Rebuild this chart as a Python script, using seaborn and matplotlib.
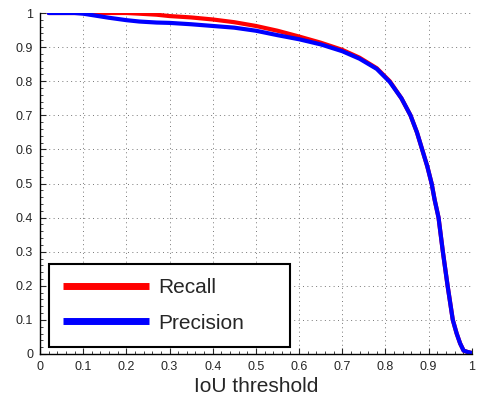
import numpy as np
import pandas as pd
import matplotlib
matplotlib.use("Agg")
import matplotlib.pyplot as plt
import seaborn as sns
from matplotlib.ticker import MultipleLocator

# curve values
iou = [0.02, 0.05, 0.08, 0.10, 0.13, 0.16, 0.20, 0.23, 0.27, 0.30, 0.35, 0.40, 0.45,
       0.50, 0.55, 0.60, 0.65, 0.70, 0.74, 0.78, 0.81, 0.837, 0.858, 0.873, 0.885,
       0.897, 0.907, 0.914, 0.923, 0.933, 0.944, 0.956, 0.965, 0.973, 0.981, 0.99, 1.0]
recall = [1.0, 1.0, 1.0, 1.0, 1.0, 1.0, 1.0, 0.998, 0.995, 0.991, 0.987, 0.981, 0.973,
          0.962, 0.948, 0.931, 0.913, 0.892, 0.869, 0.838, 0.80, 0.75, 0.70, 0.65, 0.60,
          0.55, 0.50, 0.452, 0.40, 0.30, 0.20, 0.10, 0.06, 0.031, 0.01, 0.006, 0.003]
precision = [1.0, 1.0, 1.0, 0.998, 0.992, 0.986, 0.979, 0.975, 0.972, 0.971, 0.967, 0.962, 0.957,
             0.948, 0.935, 0.923, 0.908, 0.888, 0.866, 0.836, 0.798, 0.75, 0.70, 0.65, 0.60,
             0.55, 0.50, 0.452, 0.40, 0.30, 0.20, 0.10, 0.06, 0.031, 0.01, 0.006, 0.003]
tick_labels = ["0", "0.1", "0.2", "0.3", "0.4", "0.5", "0.6", "0.7", "0.8", "0.9", "1"]

df = pd.DataFrame({"iou": iou, "Recall": recall, "Precision": precision})
long = df.melt(id_vars="iou", var_name="metric", value_name="value")

sns.set_style("white")
plt.rcParams["font.family"] = ["Liberation Sans", "DejaVu Sans"]

fig = plt.figure(figsize=(4.78, 4.0), dpi=100)
ax = fig.add_axes([0.0837, 0.115, 0.9033, 0.8525])

sns.lineplot(data=long, x="iou", y="value", hue="metric",
             palette={"Recall": "#ff0000", "Precision": "#0000ff"},
             linewidth=3, ax=ax)

ax.set_xlim(0, 1)
ax.set_ylim(0, 1)
ax.set_xticks(np.arange(0, 1.01, 0.1))
ax.set_yticks(np.arange(0, 1.01, 0.1))
ax.set_xticklabels(tick_labels)
ax.set_yticklabels(tick_labels)
ax.xaxis.set_minor_locator(MultipleLocator(0.02))
ax.yaxis.set_minor_locator(MultipleLocator(0.02))
ax.tick_params(which="major", direction="in", length=4, width=0.8, labelsize=9, pad=5)
ax.tick_params(which="minor", direction="in", length=2, width=0.6)
ax.tick_params(bottom=True, left=True, which="both")

ax.grid(True, which="major", linestyle=(0, (1, 3.5)), color="#777777", linewidth=0.7)
for s in ["top", "right"]:
    ax.spines[s].set_visible(False)
for s in ["left", "bottom"]:
    ax.spines[s].set_color("black")
    ax.spines[s].set_linewidth(1.0)

ax.set_xlabel("IoU threshold", fontsize=15, labelpad=3)
ax.set_ylabel("")

handles, labels = ax.get_legend_handles_labels()
order = [labels.index("Recall"), labels.index("Precision")]
leg = ax.legend([handles[i] for i in order], [labels[i] for i in order],
                loc="lower left", bbox_to_anchor=(0.0208, 0.0214, 0.558, 0.25),
                mode="expand", fontsize=15, frameon=True, fancybox=False,
                edgecolor="black", framealpha=1,
                handlelength=4.13, handletextpad=0.43, labelspacing=0.78,
                borderpad=0.68, borderaxespad=0.0)
leg.get_frame().set_linewidth(1.5)
for line in leg.get_lines():
    line.set_linewidth(5)
    line.set_solid_capstyle("butt")

fig.savefig("out.png", dpi=100)
